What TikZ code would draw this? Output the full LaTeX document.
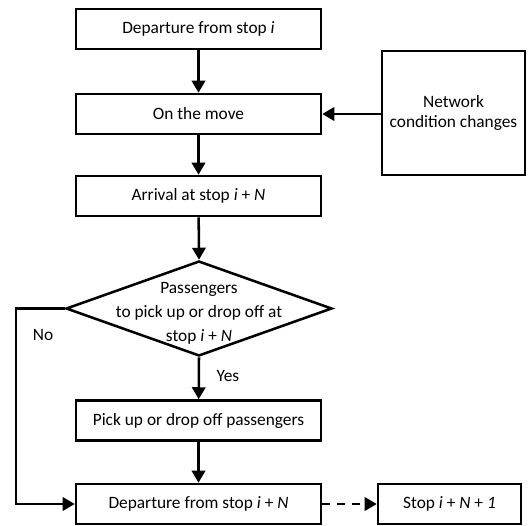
\documentclass[tikz,border=0pt]{standalone}
\usepackage{fontspec}
\setmainfont{Carlito}
\usetikzlibrary{arrows.meta,shapes.geometric}

\tikzset{
  stepbox/.style={draw, line width=1.9pt, minimum width=183.75pt, minimum height=30pt, inner sep=0pt, font=\fontsize{13}{15}\selectfont},
  flow/.style={line width=1.9pt, -{Triangle[length=9pt,width=10pt]}},
  lbl/.style={font=\fontsize{13}{15}\selectfont}
}

\begin{document}
\begin{tikzpicture}[x=0.75pt,y=-0.75pt]
  \useasboundingbox (0,0) rectangle (528,525);

  % Define coordinates
  \coordinate (c1) at (198.5,29);
  \coordinate (c2) at (198.5,114);
  \coordinate (c3) at (198.5,196);
  \coordinate (c4) at (199,308.5);
  \coordinate (c5) at (198.5,420.5);
  \coordinate (c6) at (198.5,504);
  \coordinate (turn) at (16,308.5);

  % Draw boxes
  \node[stepbox] (dep) at (c1) {Departure from stop \textit{i}};
  \node[stepbox] (move) at (c2) {On the move};
  \node[stepbox] (arr) at (c3) {Arrival at stop \textit{i} + \textit{N}};
  \node[draw, diamond, line width=1.9pt, minimum width=199.5pt, minimum height=71.25pt, inner sep=0pt] (check) at (c4) {};
  \node[align=center, font=\fontsize{13}{18}\selectfont] (checktext) at (199,313) {Passengers\\to pick up or drop off at\\stop \textit{i} + \textit{N}};
  \node[stepbox] (pick) at (c5) {Pick up or drop off passengers};
  \node[stepbox] (depN) at (c6) {Departure from stop \textit{i} + \textit{N}};
  \node[stepbox, minimum width=107.25pt, minimum height=93pt, align=center] (net) at (453.5,113) {Network\\condition changes};
  \node[stepbox, minimum width=107.25pt] (stop) at (449.5,504) {Stop \textit{i} + \textit{N} + \textit{1}};
  \node[lbl] (no) at (43,335) {No};

  % Draw arrows
  \draw[flow] (dep) -- (move);
  \draw[flow] (move) -- (arr);
  \draw[flow] (arr) -- (check.north);
  \draw[flow] (check.south) -- (pick) node[pos=0.45, right=9pt, lbl] (yes) {Yes};
  \draw[flow] (pick) -- (depN);
  \draw[flow] (net.west |- move) -- (move);
  \draw[flow] (check.west) -- (turn) |- (depN.west);
  \draw[flow, dash pattern=on 6pt off 5pt] (depN) -- (stop);

\end{tikzpicture}
\end{document}
